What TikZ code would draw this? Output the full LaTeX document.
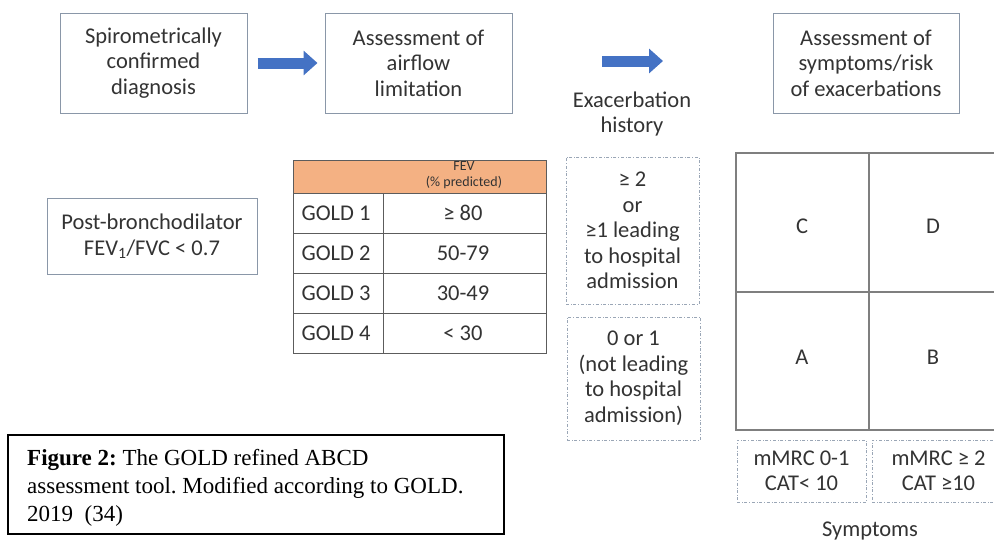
\documentclass[tikz,border=0pt]{standalone}
\usepackage{fontspec}
\setmainfont{Carlito}
\newfontfamily\capfont{Liberation Serif}
\usetikzlibrary{arrows.meta}
\definecolor{boxline}{HTML}{8A97A8}
\definecolor{dashline}{HTML}{9AA6B6}
\definecolor{arrowblue}{HTML}{4472C4}
\definecolor{hdrorange}{HTML}{F4B183}
\definecolor{txt}{HTML}{333333}
\definecolor{gridgray}{HTML}{7F7F7F}
\newcommand*{\fsz}{\fontsize{22.5}{25.5}\selectfont}
\newcommand*{\colx}{383}
\newcommand*{\midx}{869}
\newcommand*{\midy}{292}

\begin{document}
\begin{tikzpicture}[x=1pt, y=-1pt,
    box/.style={draw=boxline, line width=1pt, align=center, text=txt, font=\fsz, inner sep=0pt},
    dbox/.style={draw=dashline, dash dot, line width=0.9pt, align=center, text=txt, font=\fsz, inner sep=0pt},
    plain/.style={align=center, text=txt, font=\fsz, inner sep=0pt},
    bigarrow/.style={draw=arrowblue, line width=11pt, -{Triangle[length=14pt,width=24pt]}},
    tab/.style={draw=txt!80, line width=1pt}]
    \useasboundingbox (0,0) rectangle (994,542);
    % top row
    \node [box, minimum width=187pt, minimum height=100pt] (spiro)   at (153.5,63) {Spirometrically\\confirmed\\diagnosis};
    \node [box, minimum width=187pt, minimum height=100pt] (airflow) at (418.5,63) {Assessment of\\airflow\\limitation};
    \node [box, minimum width=186pt, minimum height=100pt] (symrisk) at (866,63)   {Assessment of\\symptoms/risk\\of exacerbations};
    \node [plain] (hist) at (632,114) {Exacerbation\\history};
    \draw [bigarrow, shorten <=10pt, shorten >=7pt] (spiro.east) -- (airflow.west);
    \coordinate (a2s) at (602,61);
    \coordinate (a2e) at (663,61);
    \draw [bigarrow] (a2s) -- (a2e);
    % spirometry
    \node [box, minimum width=210pt, minimum height=76pt] (post) at (152,236) {Post-bronchodilator\\FEV\textsubscript{1}/FVC < 0.7};
    % GOLD table
    \fill [hdrorange] (293,160) rectangle (546,193);
    \node [plain, font=\fontsize{14}{16}\selectfont] (fevhdr) at (464,175) {FEV\\(\% predicted)};
    \foreach \v [count=\i] in {≥ 80,50-79,30-49,< 30} {
        \node [plain] (g\i) at (336,213+40*\i-40) {GOLD \i};
        \node [plain] (v\i) at (463,213+40*\i-40) {\v};
    }
    \draw [tab] (293,160) rectangle (546,353);
    \foreach \y in {193,233,273,313} \draw [tab] (293,\y) -- (546,\y);
    \draw [tab] (\colx,193) -- (\colx,353);
    % exacerbation history
    \node [dbox, minimum width=133pt, minimum height=147pt] (exhi) at (632.5,230.5) {≥ 2\\or\\≥1 leading\\to hospital\\admission};
    \node [dbox, minimum width=133pt, minimum height=123pt] (exlo) at (633.5,378.5) {0 or 1\\(not leading\\to hospital\\admission)};
    % ABCD grid
    \draw [draw=gridgray, line width=1.3pt] (736,153) rectangle (1002,430);
    \draw [draw=gridgray, line width=1.3pt] (\midx,153) -- (\midx,430);
    \draw [draw=gridgray, line width=1.3pt] (736,\midy) -- (1002,\midy);
    \node [plain] (cC) at (802,226) {C};
    \node [plain] (cD) at (933,226) {D};
    \node [plain] (cA) at (802,357) {A};
    \node [plain] (cB) at (933,357) {B};
    % symptoms
    \node [dbox, minimum width=129pt, minimum height=62pt] (slo) at (801.5,471) {mMRC 0-1\\CAT< 10};
    \node [dbox, minimum width=133pt, minimum height=62pt] (shi) at (938.5,471) {mMRC ≥ 2\\CAT ≥10};
    \node [plain] (symp) at (870,531) {Symptoms};
    % caption
    \node [draw=black, line width=1.5pt, anchor=north west, minimum width=496pt, minimum height=99pt] (cap) at (7,434) {};
    \node [anchor=north west, inner sep=0pt, align=left, font=\capfont\fontsize{23}{28}\selectfont\frenchspacing] (captext) at (27,449)
          {\textbf{Figure 2:} The GOLD refined ABCD\\assessment tool. Modified according to GOLD.\\2019~~(34)};
\end{tikzpicture}
\end{document}
